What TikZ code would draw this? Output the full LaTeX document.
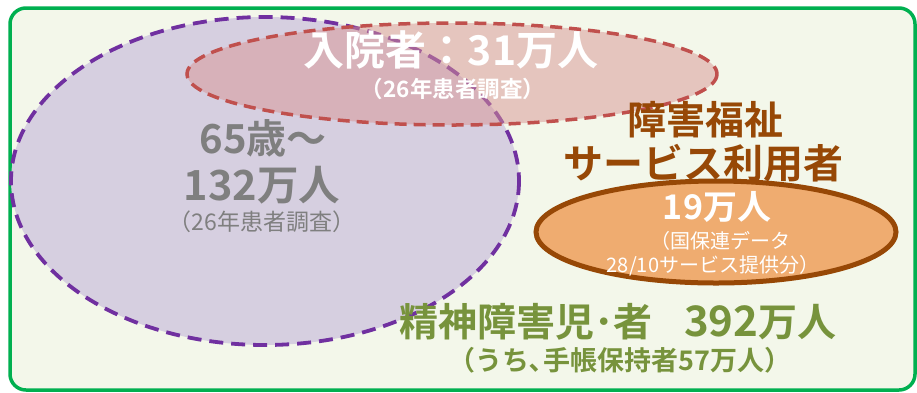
\documentclass[tikz,border=0pt]{standalone}
\usepackage{fontspec}
\newfontfamily\jp{Noto Sans CJK JP}[BoldFont={Noto Sans CJK JP Bold}]
\definecolor{frameGreen}{HTML}{00B050}
\definecolor{bgGreen}{HTML}{F3F7EA}
\definecolor{purpleLine}{HTML}{7030A0}
\definecolor{lavender}{HTML}{D3CBDF}
\definecolor{redLine}{HTML}{C0504D}
\definecolor{pinkFill}{HTML}{D99594}
\definecolor{brownC}{HTML}{974806}
\definecolor{orangeFill}{HTML}{EFAC70}
\definecolor{grayText}{HTML}{7F7F7F}
\definecolor{greenText}{HTML}{77933C}
\tikzset{
  lbl/.style={inner sep=0pt, font=\jp, align=center},
  bigw/.style={lbl, text=white, font=\jp\bfseries\fontsize{41}{43}\selectfont},
  smallw/.style={lbl, text=white, font=\jp\bfseries\fontsize{22.5}{24}\selectfont},
}
\begin{document}
\begin{tikzpicture}[x=1pt,y=-1pt]
\useasboundingbox (0,0) rectangle (917,392);
\fill[white] (0,0) rectangle (917,392);
% frame
\draw[frameGreen, line width=3.5pt, fill=bgGreen, rounded corners=16pt] (10,8) rectangle (915,390);
% purple ellipse
\draw[purpleLine, line width=3.8pt, dash pattern=on 14pt off 8pt, fill=lavender, fill opacity=0.9]
  (265,181) ellipse [x radius=254, y radius=164];
% red ellipse
\draw[redLine, line width=3.5pt, dash pattern=on 12pt off 7pt, fill=pinkFill, fill opacity=0.5]
  (452,74) ellipse [x radius=265, y radius=51];
% gray texts
\node[lbl, text=grayText, font=\jp\bfseries\fontsize{40}{42}\selectfont] (g1) at (263,138) {65歳～};
\node[lbl, text=grayText, font=\jp\bfseries\fontsize{41.5}{43}\selectfont] (g2) at (262,185) {132万人};
\node[lbl, text=grayText, font=\jp\fontsize{23}{25}\selectfont] (g3) at (262,222) {（26年患者調査）};
% hospital texts
\node[bigw] (n1) at (451,50) {入院者：31万人};
\node[smallw] (n2) at (453,89) {（26年患者調査）};
% welfare
\node[lbl, text=brownC, font=\jp\bfseries\fontsize{39}{41}\selectfont] (b1) at (705,120) {障害福祉};
\node[lbl, text=brownC, font=\jp\bfseries\fontsize{40}{42}\selectfont] (b2) at (703,163) {サービス利用者};
\draw[brownC, line width=5pt, fill=orangeFill] (716,232) ellipse [x radius=180, y radius=51];
\node[lbl, text=white, font=\jp\bfseries\fontsize{34}{36}\selectfont] (o1) at (717,207) {19万人};
\node[lbl, text=white, font=\jp\fontsize{20}{22}\selectfont] (o2) at (720,241) {（国保連データ};
\node[lbl, text=white, font=\jp\fontsize{20}{22}\selectfont] (o3) at (713,266) {28/10サービス提供分）};
% green texts
\node[lbl, text=greenText, font=\jp\bfseries\fontsize{39}{41}\selectfont] (gr1) at (618,322) {精神障害児･者\hspace{0.8em}{\fontsize{42}{44}\selectfont 392}万人};
\node[lbl, text=greenText, font=\jp\bfseries\fontsize{27}{29}\selectfont] (gr2) at (620,360) {（うち､手帳保持者57万人）};
\end{tikzpicture}
\end{document}
